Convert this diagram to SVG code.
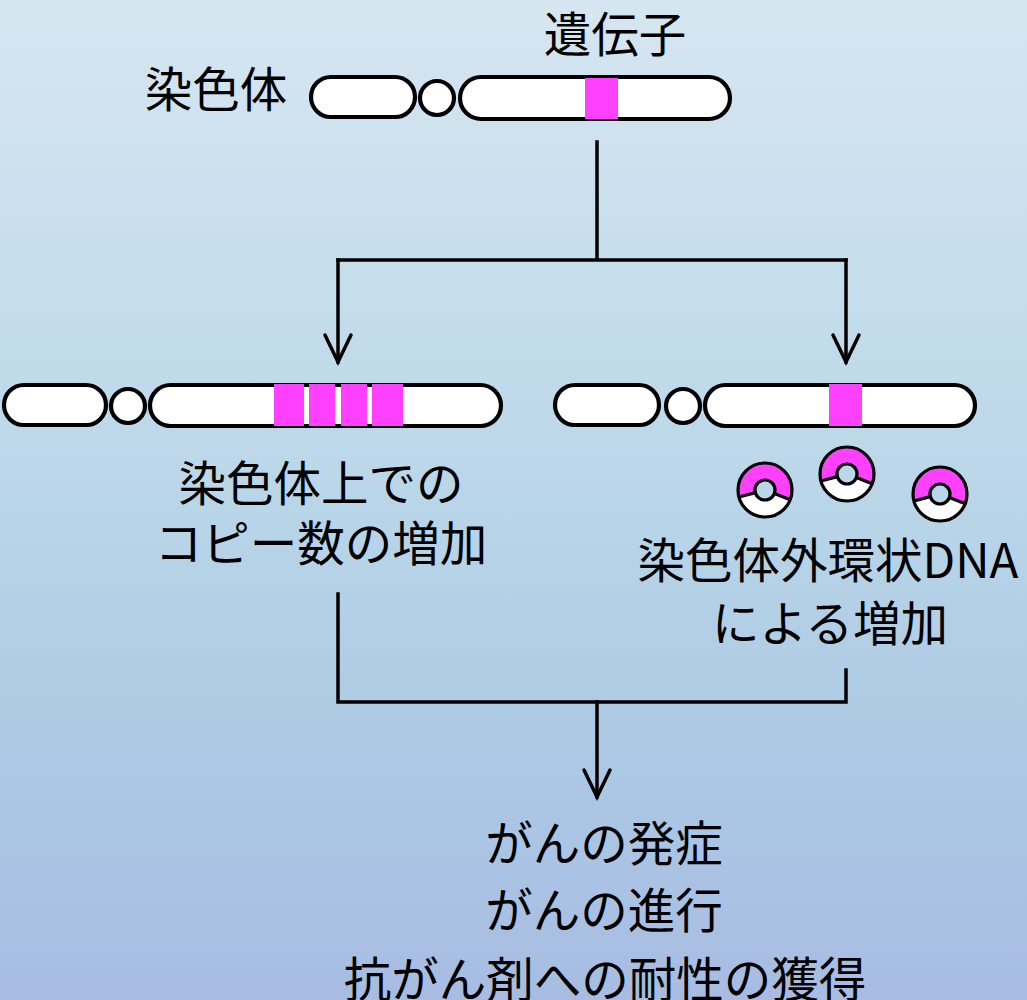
<svg xmlns="http://www.w3.org/2000/svg" width="1027" height="1000" viewBox="0 0 1027 1000">
  <defs>
    <linearGradient id="bg" x1="0" y1="0" x2="0" y2="1">
      <stop offset="0" stop-color="#d6e6f1"/>
      <stop offset="0.45" stop-color="#bcd8e9"/>
      <stop offset="0.75" stop-color="#acc9e4"/>
      <stop offset="1" stop-color="#a8bce2"/>
    </linearGradient>
    <marker id="vhead" markerUnits="userSpaceOnUse" markerWidth="40" markerHeight="40" refX="0" refY="0" viewBox="-32 -20 40 40" orient="auto" overflow="visible">
      <path d="M -27 -13 L 0 0 L -27 13" fill="none" stroke="#000" stroke-width="3.5" stroke-linecap="round" stroke-linejoin="miter"/>
    </marker>
    <!-- circular extrachromosomal DNA: ring, upper part filled -->
    <g id="ring">
      <path d="M -27 0 A 27 27 0 1 0 27 0 A 27 27 0 1 0 -27 0 Z M -10 0 A 10 10 0 1 1 10 0 A 10 10 0 1 1 -10 0 Z" fill="#fff" fill-rule="evenodd"/>
      <path d="M -26.08 6.99 A 27 27 0 1 1 25.21 9.68 L 9.34 3.58 A 10 10 0 1 0 -9.66 2.59 Z" fill="#ff40ff"/>
      <circle r="27" class="ol"/>
      <circle r="10" class="ol"/>
      <path d="M -26.08 6.99 L -9.66 2.59 M 25.21 9.68 L 9.34 3.58" class="ol"/>
    </g>
  </defs>
  <style>
    .arm { fill: #fff; stroke: #000; stroke-width: 4.2; }
    .ol { fill: none; stroke: #000; stroke-width: 3.2; }
    .gene { fill: #ff40ff; }
    .lbl { font-family: "Noto Sans CJK JP", "Noto Sans", sans-serif; font-size: 47.5px; fill: #000; text-anchor: middle; }
    .wire { fill: none; stroke: #000; stroke-width: 3.5; stroke-linecap: square; stroke-linejoin: miter; }
  </style>

  <rect x="0" y="0" width="1027" height="1000" fill="url(#bg)"/>

  <!-- original chromosome with a single gene -->
  <g id="chromosome-top">
    <rect class="arm" x="311" y="77" width="104" height="40" rx="20"/>
    <circle class="arm" cx="437" cy="98" r="17"/>
    <rect class="arm" x="460" y="77" width="270" height="42" rx="21"/>
    <rect class="gene" x="585" y="78" width="33" height="41"/>
    <text class="lbl" x="216" y="107">染色体</text>
    <text class="lbl" x="615" y="52">遺伝子</text>
  </g>

  <!-- amplification on the chromosome -->
  <g id="chromosome-amplified">
    <rect class="arm" x="4" y="385" width="102" height="40" rx="20"/>
    <circle class="arm" cx="128" cy="406" r="17"/>
    <rect class="arm" x="150" y="385" width="351" height="41" rx="20.5"/>
    <rect class="gene" x="274" y="384" width="30" height="42"/>
    <rect class="gene" x="309" y="384" width="26" height="42"/>
    <rect class="gene" x="341" y="384" width="26" height="42"/>
    <rect class="gene" x="372" y="384" width="31" height="42"/>
    <text class="lbl" x="321" y="501">染色体上での</text>
    <text class="lbl" x="321" y="561">コピー数の増加</text>
  </g>

  <!-- amplification by extrachromosomal DNA -->
  <g id="chromosome-ecdna">
    <rect class="arm" x="555" y="385" width="104" height="40" rx="20"/>
    <circle class="arm" cx="683" cy="406" r="17"/>
    <rect class="arm" x="705" y="385" width="270" height="41" rx="20.5"/>
    <rect class="gene" x="829" y="384" width="33" height="42"/>
    <use href="#ring" x="765" y="490"/>
    <use href="#ring" x="847" y="474"/>
    <use href="#ring" x="940" y="494"/>
    <text class="lbl" x="828" y="578">染色体外環状DNA</text>
    <text class="lbl" x="830" y="641">による増加</text>
  </g>

  <!-- outcomes -->
  <g id="outcome">
    <text class="lbl" x="604" y="861">がんの発症</text>
    <text class="lbl" x="604" y="928">がんの進行</text>
    <text class="lbl" x="605" y="997">抗がん剤への耐性の獲得</text>
  </g>

  <g id="connectors">
    <path class="wire" d="M 597 142 V 260 M 338 260 H 846"/>
    <path class="wire" d="M 338 260 V 362" marker-end="url(#vhead)"/>
    <path class="wire" d="M 846 260 V 362" marker-end="url(#vhead)"/>
    <path class="wire" d="M 338 594 V 702 H 846 V 670"/>
    <path class="wire" d="M 597 702 V 797" marker-end="url(#vhead)"/>
  </g>
</svg>
